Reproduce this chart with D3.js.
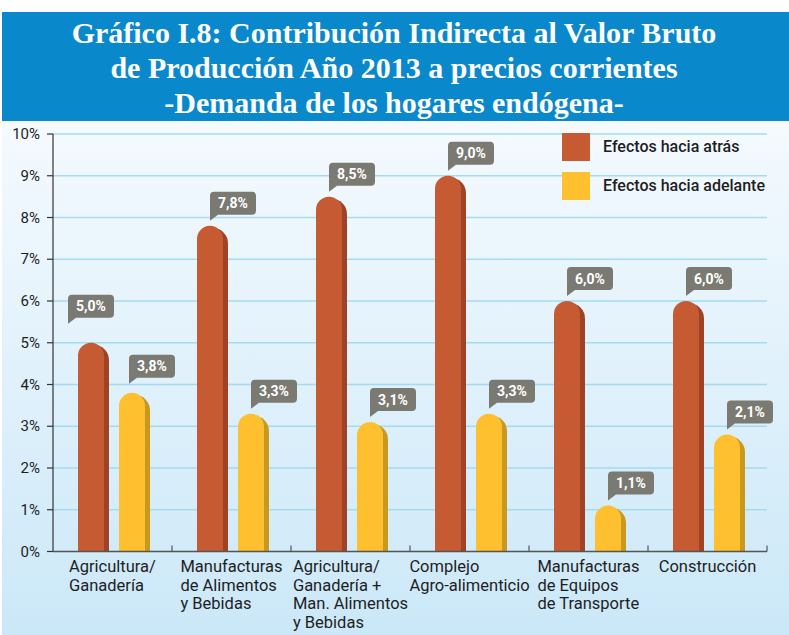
<!DOCTYPE html>
<html>
<head>
<meta charset="utf-8">
<script src="https://cdn.jsdelivr.net/npm/d3@7"></script>
<style>
  body { margin: 0; background: #fff; }
  svg { display: block; }
</style>
</head>
<body>
<div id="graph"></div>
<script>
// values
var categories = ['agri', 'manu', 'agriman', 'complejo', 'equipos', 'constr'];
var categoryLines = [
    ['Agricultura/', 'Ganadería'],
    ['Manufacturas', 'de Alimentos', 'y Bebidas'],
    ['Agricultura/', 'Ganadería +', 'Man. Alimentos', 'y Bebidas'],
    ['Complejo', 'Agro-alimenticio'],
    ['Manufacturas', 'de Equipos', 'de Transporte'],
    ['Construcción']
];
var seriesNames = ['Efectos hacia atrás', 'Efectos hacia adelante'];
var haciaAtras = [5.0, 7.8, 8.5, 9.0, 6.0, 6.0];
var haciaAdelante = [3.8, 3.3, 3.1, 3.3, 1.1, 2.8]; // last bar is drawn at ~2.8 in the source
var labelsAtras = ['5,0%', '7,8%', '8,5%', '9,0%', '6,0%', '6,0%'];
var labelsAdelante = ['3,8%', '3,3%', '3,1%', '3,3%', '1,1%', '2,1%'];
var yTicks = [0, 1, 2, 3, 4, 5, 6, 7, 8, 9, 10];
var titleLines = [
    'Gráfico I.8: Contribución Indirecta al Valor Bruto',
    'de Producción Año 2013 a precios corrientes',
    '-Demanda de los hogares endógena-'
];

var W = 789, H = 635;
var colors = [['#c65b33', '#9f4327'], ['#fec02f', '#c9981f']];
// callouts in the first group sit a bit off the usual spot
var nudge = [[[-23, -14], [0, 0], [0, 0], [0, 0], [0, 0], [0, 0]],
             [[-3, -4], [0, 0], [0, 0], [0, 0], [0, 0], [0, 0]]];

var svg = d3.select('#graph').append('svg')
    .attr('width', W)
    .attr('height', H);

var defs = svg.append('defs');
var grad = defs.append('linearGradient')
    .attr('id', 'bg')
    .attr('x1', 0).attr('y1', 0).attr('x2', 0).attr('y2', 1);
grad.append('stop').attr('offset', '0%').attr('stop-color', '#f5fafe');
grad.append('stop').attr('offset', '100%').attr('stop-color', '#cbe8f8');

svg.append('rect')
    .attr('x', 2).attr('y', 121)
    .attr('width', W - 2).attr('height', H - 121)
    .attr('fill', 'url(#bg)');

// title banner
svg.append('rect')
    .attr('x', 2).attr('y', 12)
    .attr('width', W - 2).attr('height', 109)
    .attr('fill', '#0a88cc');

svg.append('g').selectAll('text')
    .data(titleLines)
    .enter()
    .append('text')
    .attr('x', 394)
    .attr('y', function (d, i) { return 43 + i * 35; })
    .attr('text-anchor', 'middle')
    .attr('font-family', '"Liberation Serif", "DejaVu Serif", serif')
    .attr('font-weight', 'bold')
    .attr('font-size', 30)
    .attr('fill', '#fff')
    .text(function (d) { return d; });

var x = d3.scaleBand().domain(categories).range([53, 767]);
var y = d3.scaleLinear().domain([0, 10]).range([551.5, 134]);

// grid
svg.append('g').selectAll('line')
    .data(yTicks.slice(1))
    .enter()
    .append('line')
    .attr('x1', 53).attr('x2', 767)
    .attr('y1', function (d) { return y(d); })
    .attr('y2', function (d) { return y(d); })
    .attr('stroke', '#a3dbf3')
    .attr('stroke-width', 1.5);

// legend
var legend = svg.append('g');
seriesNames.forEach(function (name, i) {
    legend.append('rect')
        .attr('x', 562).attr('y', 133 + i * 39)
        .attr('width', 28).attr('height', 28)
        .attr('fill', colors[i][0]);
    legend.append('text')
        .attr('x', 603).attr('y', 152 + i * 39)
        .attr('font-family', 'Roboto, sans-serif')
        .attr('font-weight', 500)
        .attr('font-size', 16)
        .attr('fill', '#1e1e1e')
        .text(name);
});

var barW = 31;
var offsets = [25, 66];

function barPath(x0, top, w, bottom) {
    var r = w / 2;
    return 'M' + x0 + ',' + bottom +
        'L' + x0 + ',' + (top + r) +
        'A' + r + ',' + r + ' 0 0 1 ' + (x0 + w) + ',' + (top + r) +
        'L' + (x0 + w) + ',' + bottom + 'Z';
}

var series = [haciaAtras, haciaAdelante];
var labels = [labelsAtras, labelsAdelante];
var bars = svg.append('g');
var callouts = svg.append('g');

series.forEach(function (vals, s) {
    vals.forEach(function (v, i) {
        var bx = x(categories[i]) + offsets[s];
        var top = y(v);
        bars.append('path')
            .attr('d', barPath(bx, top + 2, barW, y(0)))
            .attr('fill', colors[s][1]);
        bars.append('path')
            .attr('d', barPath(bx, top, barW - 5, y(0)))
            .attr('fill', colors[s][0]);

        var bl = bx + 13 + nudge[s][i][0];
        var bb = top - 11 + nudge[s][i][1];
        var g = callouts.append('g');
        g.append('rect')
            .attr('x', bl).attr('y', bb - 23)
            .attr('width', 46).attr('height', 23)
            .attr('rx', 4)
            .attr('fill', '#7a7a72');
        g.append('path')
            .attr('d', 'M' + bl + ',' + (bb - 4) + 'L' + bl + ',' + (bb + 6) + 'L' + (bl + 8) + ',' + bb + 'Z')
            .attr('fill', '#7a7a72');
        g.append('text')
            .attr('x', bl + 23).attr('y', bb - 6.5)
            .attr('text-anchor', 'middle')
            .attr('font-family', 'Roboto, sans-serif')
            .attr('font-weight', 'bold')
            .attr('font-size', 14)
            .attr('fill', '#fff')
            .text(labels[s][i]);
    });
});

// axes
var axisColor = '#333';
var yAxis = svg.append('g');
yAxis.append('line')
    .attr('x1', 53).attr('x2', 53)
    .attr('y1', y(10)).attr('y2', y(0))
    .attr('stroke', axisColor).attr('stroke-width', 1.2);
yAxis.selectAll('.tk')
    .data(yTicks)
    .enter()
    .append('line')
    .attr('x1', 47).attr('x2', 53)
    .attr('y1', function (d) { return y(d); })
    .attr('y2', function (d) { return y(d); })
    .attr('stroke', axisColor).attr('stroke-width', 1.2);
yAxis.selectAll('text')
    .data(yTicks)
    .enter()
    .append('text')
    .attr('x', 40)
    .attr('y', function (d) { return y(d) + 5; })
    .attr('text-anchor', 'end')
    .attr('font-family', 'Roboto, sans-serif')
    .attr('font-size', 15)
    .attr('fill', '#1e1e1e')
    .text(function (d) { return d + '%'; });

var xAxis = svg.append('g');
xAxis.append('line')
    .attr('x1', 53).attr('x2', 767)
    .attr('y1', y(0)).attr('y2', y(0))
    .attr('stroke', '#555').attr('stroke-width', 1.5);
xAxis.selectAll('line.tk')
    .data(categories.slice(1).concat(['end']))
    .enter()
    .append('line')
    .attr('x1', function (d) { return d === 'end' ? 767 : x(d); })
    .attr('x2', function (d) { return d === 'end' ? 767 : x(d); })
    .attr('y1', y(0) - 6).attr('y2', y(0))
    .attr('stroke', '#555').attr('stroke-width', 1.2);

categoryLines.forEach(function (lines, i) {
    var t = xAxis.append('text')
        .attr('font-family', 'Roboto, sans-serif')
        .attr('font-size', 16.5)
        .attr('fill', '#1e1e1e');
    lines.forEach(function (l, j) {
        t.append('tspan')
            .attr('x', 0)
            .attr('y', 572 + j * 18.5)
            .text(l);
    });
    var w = t.node().getBBox().width;
    var left = x(categories[i]) + x.bandwidth() / 2 - w / 2;
    t.attr('transform', 'translate(' + left + ',0)');
});
</script>
</body>
</html>
